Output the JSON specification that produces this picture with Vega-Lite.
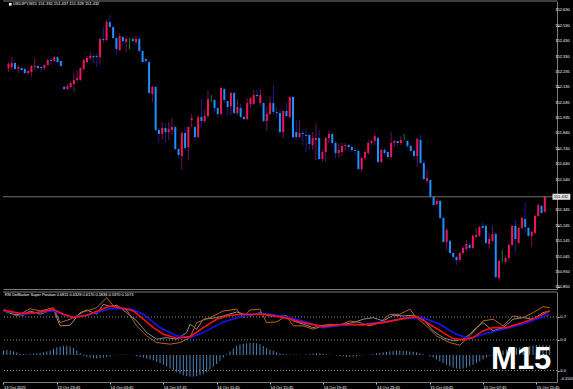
{
"$schema":"https://vega.github.io/schema/vega-lite/v6.json",
"background":"#000000",
"padding":{"left":0,"top":0,"right":8,"bottom":0},
"spacing":1,
"config":{"view":{"stroke":null},"axis":{"labelFont":"Liberation Sans","labelFontSize":4,"labelColor":"#ffffff","tickColor":"#c8c8c8","domainColor":"#7a7a7a","grid":false,"title":null,"labelOverlap":false}},
"datasets":{
"one":[{"k":1}],
"pticks":[{"v":152.63},{"v":152.53},{"v":152.43},{"v":152.33},{"v":152.235},{"v":152.135},{"v":152.035},{"v":151.935},{"v":151.84},{"v":151.74},{"v":151.64},{"v":151.54},{"v":151.345},{"v":151.245},{"v":151.145},{"v":151.045},{"v":150.95},{"v":150.85}],
"oticks":[{"v":0.7,"t":"0.7"},{"v":0.4,"t":"0.4"},{"v":0.0,"t":"0.0"}],
"omin":[{"v":-0.1503,"t":"-0.1503"}],
"candles":[
{"i":0,"o":152.258,"h":152.296,"l":152.232,"c":152.283},
{"i":1,"o":152.264,"h":152.328,"l":152.245,"c":152.290},
{"i":2,"o":152.290,"h":152.296,"l":152.245,"c":152.252},
{"i":3,"o":152.252,"h":152.277,"l":152.226,"c":152.264},
{"i":4,"o":152.258,"h":152.264,"l":152.239,"c":152.245},
{"i":5,"o":152.252,"h":152.258,"l":152.219,"c":152.226},
{"i":6,"o":152.226,"h":152.245,"l":152.213,"c":152.239},
{"i":7,"o":152.232,"h":152.277,"l":152.200,"c":152.271},
{"i":8,"o":152.264,"h":152.322,"l":152.245,"c":152.271},
{"i":9,"o":152.271,"h":152.277,"l":152.252,"c":152.258},
{"i":10,"o":152.264,"h":152.271,"l":152.232,"c":152.258},
{"i":11,"o":152.258,"h":152.283,"l":152.245,"c":152.277},
{"i":12,"o":152.277,"h":152.316,"l":152.271,"c":152.309},
{"i":13,"o":152.309,"h":152.322,"l":152.277,"c":152.303},
{"i":14,"o":152.303,"h":152.335,"l":152.296,"c":152.328},
{"i":15,"o":152.328,"h":152.335,"l":152.290,"c":152.296},
{"i":16,"o":152.303,"h":152.309,"l":152.264,"c":152.271},
{"i":17,"o":152.136,"h":152.149,"l":152.117,"c":152.123},
{"i":18,"o":152.123,"h":152.155,"l":152.117,"c":152.142},
{"i":19,"o":152.136,"h":152.175,"l":152.130,"c":152.162},
{"i":20,"o":152.155,"h":152.226,"l":152.098,"c":152.181},
{"i":21,"o":152.181,"h":152.245,"l":152.168,"c":152.194},
{"i":22,"o":152.181,"h":152.264,"l":152.175,"c":152.258},
{"i":23,"o":152.252,"h":152.316,"l":152.245,"c":152.309},
{"i":24,"o":152.296,"h":152.335,"l":152.290,"c":152.322},
{"i":25,"o":152.322,"h":152.361,"l":152.309,"c":152.335},
{"i":26,"o":152.335,"h":152.341,"l":152.290,"c":152.328},
{"i":27,"o":152.335,"h":152.354,"l":152.264,"c":152.329},
{"i":28,"o":152.328,"h":152.450,"l":152.277,"c":152.444},
{"i":29,"o":152.444,"h":152.521,"l":152.418,"c":152.437},
{"i":30,"o":152.437,"h":152.566,"l":152.431,"c":152.553},
{"i":31,"o":152.553,"h":152.598,"l":152.518,"c":152.521},
{"i":32,"o":152.521,"h":152.527,"l":152.444,"c":152.450},
{"i":33,"o":152.450,"h":152.463,"l":152.341,"c":152.380},
{"i":34,"o":152.373,"h":152.482,"l":152.367,"c":152.463},
{"i":35,"o":152.457,"h":152.463,"l":152.405,"c":152.431},
{"i":36,"o":152.425,"h":152.463,"l":152.361,"c":152.444},
{"i":37,"o":152.440,"h":152.450,"l":152.380,"c":152.440},
{"i":38,"o":152.444,"h":152.450,"l":152.425,"c":152.431},
{"i":39,"o":152.425,"h":152.463,"l":152.405,"c":152.444},
{"i":40,"o":152.444,"h":152.463,"l":152.361,"c":152.367},
{"i":41,"o":152.367,"h":152.373,"l":152.290,"c":152.296},
{"i":42,"o":152.316,"h":152.322,"l":152.290,"c":152.303},
{"i":43,"o":152.296,"h":152.309,"l":152.091,"c":152.098},
{"i":44,"o":152.091,"h":152.142,"l":152.040,"c":152.136},
{"i":45,"o":152.136,"h":152.142,"l":151.854,"c":151.860},
{"i":46,"o":151.860,"h":151.873,"l":151.777,"c":151.835},
{"i":47,"o":151.835,"h":151.911,"l":151.796,"c":151.873},
{"i":48,"o":151.873,"h":151.905,"l":151.777,"c":151.847},
{"i":49,"o":151.847,"h":151.911,"l":151.796,"c":151.866},
{"i":50,"o":151.860,"h":151.937,"l":151.828,"c":151.879},
{"i":51,"o":151.879,"h":151.886,"l":151.732,"c":151.738},
{"i":52,"o":151.738,"h":151.745,"l":151.681,"c":151.700},
{"i":53,"o":151.694,"h":151.847,"l":151.604,"c":151.841},
{"i":54,"o":151.841,"h":151.879,"l":151.732,"c":151.745},
{"i":55,"o":151.751,"h":151.886,"l":151.668,"c":151.879},
{"i":56,"o":151.924,"h":151.963,"l":151.879,"c":151.937},
{"i":57,"o":151.879,"h":151.886,"l":151.796,"c":151.815},
{"i":58,"o":151.815,"h":151.956,"l":151.809,"c":151.943},
{"i":59,"o":151.943,"h":152.059,"l":151.879,"c":151.918},
{"i":60,"o":151.918,"h":151.988,"l":151.905,"c":151.950},
{"i":61,"o":151.950,"h":152.117,"l":151.937,"c":152.059},
{"i":62,"o":152.059,"h":152.085,"l":152.040,"c":152.059},
{"i":63,"o":152.053,"h":152.059,"l":151.975,"c":152.001},
{"i":64,"o":152.001,"h":152.008,"l":151.943,"c":151.963},
{"i":65,"o":151.963,"h":152.136,"l":151.956,"c":152.130},
{"i":66,"o":152.123,"h":152.130,"l":152.033,"c":152.053},
{"i":67,"o":152.046,"h":152.053,"l":151.956,"c":152.008},
{"i":68,"o":152.014,"h":152.104,"l":151.956,"c":152.098},
{"i":69,"o":152.098,"h":152.104,"l":151.963,"c":151.969},
{"i":70,"o":151.969,"h":152.059,"l":151.956,"c":152.008},
{"i":71,"o":152.001,"h":152.027,"l":151.937,"c":151.944},
{"i":72,"o":151.944,"h":151.950,"l":151.924,"c":151.931},
{"i":73,"o":151.931,"h":152.065,"l":151.924,"c":152.033},
{"i":74,"o":152.027,"h":152.072,"l":152.001,"c":152.065},
{"i":75,"o":152.027,"h":152.117,"l":152.020,"c":152.085},
{"i":76,"o":152.085,"h":152.117,"l":152.059,"c":152.078},
{"i":77,"o":152.033,"h":152.123,"l":152.014,"c":152.085},
{"i":78,"o":152.033,"h":152.040,"l":151.911,"c":151.918},
{"i":79,"o":151.918,"h":152.014,"l":151.854,"c":151.963},
{"i":80,"o":151.963,"h":152.078,"l":151.956,"c":152.033},
{"i":81,"o":152.033,"h":152.149,"l":151.963,"c":151.976},
{"i":82,"o":151.976,"h":152.008,"l":151.937,"c":151.969},
{"i":83,"o":151.969,"h":151.995,"l":151.841,"c":151.847},
{"i":84,"o":151.847,"h":151.988,"l":151.809,"c":151.982},
{"i":85,"o":151.982,"h":152.040,"l":151.943,"c":151.950},
{"i":86,"o":151.943,"h":152.078,"l":151.937,"c":152.072},
{"i":87,"o":152.072,"h":152.078,"l":151.809,"c":151.815},
{"i":88,"o":151.847,"h":151.924,"l":151.796,"c":151.815},
{"i":89,"o":151.815,"h":151.924,"l":151.809,"c":151.841},
{"i":90,"o":151.841,"h":151.860,"l":151.764,"c":151.835},
{"i":91,"o":151.828,"h":151.873,"l":151.719,"c":151.822},
{"i":92,"o":151.828,"h":151.835,"l":151.732,"c":151.770},
{"i":93,"o":151.764,"h":151.847,"l":151.732,"c":151.809},
{"i":94,"o":151.796,"h":151.905,"l":151.668,"c":151.809},
{"i":95,"o":151.809,"h":151.860,"l":151.668,"c":151.674},
{"i":96,"o":151.674,"h":151.732,"l":151.655,"c":151.719},
{"i":97,"o":151.719,"h":151.815,"l":151.655,"c":151.809},
{"i":98,"o":151.809,"h":151.854,"l":151.777,"c":151.835},
{"i":99,"o":151.835,"h":151.841,"l":151.758,"c":151.777},
{"i":100,"o":151.777,"h":151.790,"l":151.681,"c":151.713},
{"i":101,"o":151.713,"h":151.777,"l":151.681,"c":151.732},
{"i":102,"o":151.719,"h":151.777,"l":151.694,"c":151.758},
{"i":103,"o":151.758,"h":151.777,"l":151.732,"c":151.764},
{"i":104,"o":151.764,"h":151.770,"l":151.732,"c":151.751},
{"i":105,"o":151.751,"h":151.758,"l":151.719,"c":151.732},
{"i":106,"o":151.732,"h":151.745,"l":151.700,"c":151.726},
{"i":107,"o":151.726,"h":151.732,"l":151.604,"c":151.610},
{"i":108,"o":151.610,"h":151.687,"l":151.591,"c":151.681},
{"i":109,"o":151.681,"h":151.732,"l":151.668,"c":151.719},
{"i":110,"o":151.713,"h":151.796,"l":151.700,"c":151.777},
{"i":111,"o":151.777,"h":151.796,"l":151.764,"c":151.790},
{"i":112,"o":151.790,"h":151.835,"l":151.764,"c":151.822},
{"i":113,"o":151.809,"h":151.815,"l":151.649,"c":151.655},
{"i":114,"o":151.655,"h":151.745,"l":151.649,"c":151.732},
{"i":115,"o":151.732,"h":151.745,"l":151.700,"c":151.713},
{"i":116,"o":151.719,"h":151.726,"l":151.681,"c":151.687},
{"i":117,"o":151.687,"h":151.847,"l":151.681,"c":151.777},
{"i":118,"o":151.777,"h":151.796,"l":151.751,"c":151.790},
{"i":119,"o":151.790,"h":151.790,"l":151.758,"c":151.777},
{"i":120,"o":151.777,"h":151.822,"l":151.764,"c":151.796},
{"i":121,"o":151.816,"h":151.835,"l":151.796,"c":151.816},
{"i":122,"o":151.790,"h":151.796,"l":151.745,"c":151.758},
{"i":123,"o":151.758,"h":151.764,"l":151.713,"c":151.726},
{"i":124,"o":151.726,"h":151.732,"l":151.668,"c":151.694},
{"i":125,"o":151.694,"h":151.809,"l":151.623,"c":151.803},
{"i":126,"o":151.796,"h":151.828,"l":151.642,"c":151.649},
{"i":127,"o":151.649,"h":151.668,"l":151.539,"c":151.546},
{"i":128,"o":151.533,"h":151.604,"l":151.520,"c":151.552},
{"i":129,"o":151.539,"h":151.546,"l":151.424,"c":151.430},
{"i":130,"o":151.430,"h":151.437,"l":151.373,"c":151.379},
{"i":131,"o":151.385,"h":151.418,"l":151.373,"c":151.405},
{"i":132,"o":151.405,"h":151.411,"l":151.289,"c":151.296},
{"i":133,"o":151.296,"h":151.302,"l":151.136,"c":151.142},
{"i":134,"o":151.142,"h":151.232,"l":151.091,"c":151.219},
{"i":135,"o":151.149,"h":151.155,"l":151.065,"c":151.071},
{"i":136,"o":151.071,"h":151.078,"l":151.033,"c":151.046},
{"i":137,"o":151.046,"h":151.052,"l":150.994,"c":151.026},
{"i":138,"o":151.026,"h":151.078,"l":151.014,"c":151.071},
{"i":139,"o":151.071,"h":151.116,"l":151.058,"c":151.103},
{"i":140,"o":151.097,"h":151.155,"l":151.078,"c":151.129},
{"i":141,"o":151.123,"h":151.136,"l":151.091,"c":151.103},
{"i":142,"o":151.103,"h":151.187,"l":151.097,"c":151.181},
{"i":143,"o":151.174,"h":151.232,"l":151.168,"c":151.187},
{"i":144,"o":151.181,"h":151.245,"l":151.174,"c":151.238},
{"i":145,"o":151.245,"h":151.270,"l":151.219,"c":151.232},
{"i":146,"o":151.245,"h":151.251,"l":151.129,"c":151.136},
{"i":147,"o":151.129,"h":151.200,"l":151.097,"c":151.161},
{"i":148,"o":151.149,"h":151.245,"l":151.142,"c":151.193},
{"i":149,"o":151.193,"h":151.206,"l":150.904,"c":150.917},
{"i":150,"o":150.911,"h":151.026,"l":150.898,"c":151.020},
{"i":151,"o":151.052,"h":151.091,"l":151.014,"c":151.052},
{"i":152,"o":151.014,"h":151.058,"l":151.001,"c":151.039},
{"i":153,"o":151.039,"h":151.136,"l":151.020,"c":151.123},
{"i":154,"o":151.123,"h":151.251,"l":151.116,"c":151.245},
{"i":155,"o":151.245,"h":151.283,"l":151.071,"c":151.161},
{"i":156,"o":151.136,"h":151.238,"l":151.129,"c":151.232},
{"i":157,"o":151.232,"h":151.302,"l":151.225,"c":151.296},
{"i":158,"o":151.289,"h":151.392,"l":151.200,"c":151.238},
{"i":159,"o":151.232,"h":151.238,"l":151.174,"c":151.181},
{"i":160,"o":151.181,"h":151.213,"l":151.110,"c":151.206},
{"i":161,"o":151.200,"h":151.315,"l":151.193,"c":151.309},
{"i":162,"o":151.309,"h":151.385,"l":151.302,"c":151.379},
{"i":163,"o":151.373,"h":151.379,"l":151.322,"c":151.328},
{"i":164,"o":151.335,"h":151.437,"l":151.328,"c":151.432}
],
"hist":[
{"i":0,"h":0.05},{"i":1,"h":0.055},{"i":2,"h":0.05},{"i":3,"h":0.04},{"i":4,"h":0.03},{"i":5,"h":0.015},{"i":6,"h":0.01},{"i":7,"h":0.008},{"i":8,"h":0.01},{"i":9,"h":0.015},
{"i":10,"h":0.02},{"i":11,"h":0.025},{"i":12,"h":0.03},{"i":13,"h":0.04},{"i":14,"h":0.05},{"i":15,"h":0.07},{"i":16,"h":0.085},{"i":17,"h":0.095},{"i":18,"h":0.1},{"i":19,"h":0.1},
{"i":20,"h":0.095},{"i":21,"h":0.08},{"i":22,"h":0.05},{"i":23,"h":0.02},{"i":24,"h":-0.01},{"i":25,"h":-0.02},{"i":26,"h":-0.03},{"i":27,"h":-0.035},{"i":28,"h":-0.04},{"i":29,"h":-0.035},
{"i":30,"h":-0.03},{"i":31,"h":-0.025},{"i":32,"h":-0.015},{"i":33,"h":-0.005},{"i":34,"h":0.004},{"i":35,"h":0.005},{"i":36,"h":0.004},{"i":37,"h":0.003},{"i":38,"h":0.002},{"i":39,"h":-0.005},
{"i":40,"h":-0.015},{"i":41,"h":-0.02},{"i":42,"h":-0.03},{"i":43,"h":-0.04},{"i":44,"h":-0.05},{"i":45,"h":-0.06},{"i":46,"h":-0.075},{"i":47,"h":-0.09},{"i":48,"h":-0.11},{"i":49,"h":-0.13},
{"i":50,"h":-0.15},{"i":51,"h":-0.17},{"i":52,"h":-0.19},{"i":53,"h":-0.21},{"i":54,"h":-0.225},{"i":55,"h":-0.235},{"i":56,"h":-0.24},{"i":57,"h":-0.24},{"i":58,"h":-0.235},{"i":59,"h":-0.225},
{"i":60,"h":-0.21},{"i":61,"h":-0.19},{"i":62,"h":-0.16},{"i":63,"h":-0.13},{"i":64,"h":-0.1},{"i":65,"h":-0.065},{"i":66,"h":-0.03},{"i":67,"h":0.01},{"i":68,"h":0.04},{"i":69,"h":0.07},
{"i":70,"h":0.1},{"i":71,"h":0.115},{"i":72,"h":0.125},{"i":73,"h":0.13},{"i":74,"h":0.135},{"i":75,"h":0.137},{"i":76,"h":0.13},{"i":77,"h":0.12},{"i":78,"h":0.1},{"i":79,"h":0.08},
{"i":80,"h":0.06},{"i":81,"h":0.045},{"i":82,"h":0.03},{"i":83,"h":0.02},{"i":84,"h":0.01},{"i":85,"h":0.008},{"i":86,"h":0.006},{"i":87,"h":0.005},{"i":88,"h":0.004},{"i":89,"h":0.003},
{"i":90,"h":0.0},{"i":91,"h":0.005},{"i":92,"h":0.01},{"i":93,"h":0.015},{"i":94,"h":0.02},{"i":95,"h":0.02},{"i":96,"h":0.015},{"i":97,"h":0.01},{"i":98,"h":0.005},{"i":99,"h":0.0},
{"i":100,"h":-0.005},{"i":101,"h":-0.01},{"i":102,"h":-0.015},{"i":103,"h":-0.02},{"i":104,"h":-0.02},{"i":105,"h":-0.018},{"i":106,"h":-0.015},{"i":107,"h":-0.01},{"i":108,"h":-0.005},{"i":109,"h":0.0},
{"i":110,"h":0.005},{"i":111,"h":0.01},{"i":112,"h":0.02},{"i":113,"h":0.025},{"i":114,"h":0.03},{"i":115,"h":0.035},{"i":116,"h":0.04},{"i":117,"h":0.045},{"i":118,"h":0.05},{"i":119,"h":0.05},
{"i":120,"h":0.048},{"i":121,"h":0.045},{"i":122,"h":0.04},{"i":123,"h":0.035},{"i":124,"h":0.03},{"i":125,"h":0.02},{"i":126,"h":0.01},{"i":127,"h":0.0},{"i":128,"h":-0.015},{"i":129,"h":-0.03},
{"i":130,"h":-0.05},{"i":131,"h":-0.07},{"i":132,"h":-0.09},{"i":133,"h":-0.11},{"i":134,"h":-0.125},{"i":135,"h":-0.14},{"i":136,"h":-0.15},{"i":137,"h":-0.155},{"i":138,"h":-0.15},{"i":139,"h":-0.14},
{"i":140,"h":-0.125},{"i":141,"h":-0.11},{"i":142,"h":-0.09},{"i":143,"h":-0.07},{"i":144,"h":-0.05},{"i":145,"h":-0.03},{"i":146,"h":-0.01},{"i":147,"h":0.01},{"i":148,"h":0.025},{"i":149,"h":0.04},
{"i":150,"h":0.05},{"i":151,"h":0.06},{"i":152,"h":0.07},{"i":153,"h":0.075},{"i":154,"h":0.08},{"i":155,"h":0.085},{"i":156,"h":0.09},{"i":157,"h":0.095},{"i":158,"h":0.1},{"i":159,"h":0.105},
{"i":160,"h":0.11},{"i":161,"h":0.11},{"i":162,"h":0.11},{"i":163,"h":0.108},{"i":164,"h":0.1073}
],
"levels":[{"v":0.7},{"v":0.4},{"v":0.0}],
"osc":[
{"i":0,"s":"g","v":0.778},{"i":3,"s":"g","v":0.735},{"i":6,"s":"g","v":0.722},{"i":8,"s":"g","v":0.778},{"i":11,"s":"g","v":0.735},{"i":15,"s":"g","v":0.801},{"i":17,"s":"g","v":0.583},{"i":20,"s":"g","v":0.592},{"i":23,"s":"g","v":0.756},{"i":25,"s":"g","v":0.791},{"i":28,"s":"g","v":0.735},{"i":30,"s":"g","v":0.866},{"i":32,"s":"g","v":0.834},{"i":34,"s":"g","v":0.853},{"i":37,"s":"g","v":0.756},{"i":40,"s":"g","v":0.648},{"i":43,"s":"g","v":0.495},{"i":46,"s":"g","v":0.409},{"i":49,"s":"g","v":0.430},{"i":52,"s":"g","v":0.409},{"i":55,"s":"g","v":0.495},{"i":56,"s":"g","v":0.605},{"i":58,"s":"g","v":0.540},{"i":60,"s":"g","v":0.670},{"i":64,"s":"g","v":0.691},{"i":66,"s":"g","v":0.713},{"i":70,"s":"g","v":0.765},{"i":74,"s":"g","v":0.713},{"i":77,"s":"g","v":0.756},{"i":80,"s":"g","v":0.713},{"i":85,"s":"g","v":0.713},{"i":87,"s":"g","v":0.648},{"i":90,"s":"g","v":0.605},{"i":93,"s":"g","v":0.561},{"i":96,"s":"g","v":0.592},{"i":99,"s":"g","v":0.592},{"i":102,"s":"g","v":0.605},{"i":105,"s":"g","v":0.626},{"i":108,"s":"g","v":0.670},{"i":111,"s":"g","v":0.691},{"i":114,"s":"g","v":0.648},{"i":117,"s":"g","v":0.722},{"i":120,"s":"g","v":0.713},{"i":123,"s":"g","v":0.722},{"i":126,"s":"g","v":0.670},{"i":129,"s":"g","v":0.518},{"i":132,"s":"g","v":0.430},{"i":135,"s":"g","v":0.387},{"i":138,"s":"g","v":0.409},{"i":140,"s":"g","v":0.475},{"i":142,"s":"g","v":0.561},{"i":144,"s":"g","v":0.626},{"i":147,"s":"g","v":0.518},{"i":150,"s":"g","v":0.561},{"i":153,"s":"g","v":0.670},{"i":156,"s":"g","v":0.691},{"i":159,"s":"g","v":0.670},{"i":162,"s":"g","v":0.756},{"i":164,"s":"g","v":0.778},
{"i":0,"s":"d","v":0.801},{"i":4,"s":"d","v":0.713},{"i":8,"s":"d","v":0.808},{"i":11,"s":"d","v":0.778},{"i":15,"s":"d","v":0.821},{"i":17,"s":"d","v":0.626},{"i":20,"s":"d","v":0.670},{"i":24,"s":"d","v":0.765},{"i":28,"s":"d","v":0.821},{"i":31,"s":"d","v":0.952},{"i":33,"s":"d","v":0.844},{"i":37,"s":"d","v":0.791},{"i":40,"s":"d","v":0.583},{"i":43,"s":"d","v":0.452},{"i":46,"s":"d","v":0.365},{"i":50,"s":"d","v":0.344},{"i":53,"s":"d","v":0.365},{"i":56,"s":"d","v":0.430},{"i":58,"s":"d","v":0.626},{"i":62,"s":"d","v":0.691},{"i":66,"s":"d","v":0.778},{"i":70,"s":"d","v":0.801},{"i":72,"s":"d","v":0.691},{"i":74,"s":"d","v":0.791},{"i":77,"s":"d","v":0.801},{"i":79,"s":"d","v":0.626},{"i":82,"s":"d","v":0.635},{"i":85,"s":"d","v":0.713},{"i":87,"s":"d","v":0.583},{"i":90,"s":"d","v":0.583},{"i":93,"s":"d","v":0.540},{"i":96,"s":"d","v":0.583},{"i":98,"s":"d","v":0.605},{"i":101,"s":"d","v":0.592},{"i":104,"s":"d","v":0.648},{"i":107,"s":"d","v":0.626},{"i":110,"s":"d","v":0.583},{"i":113,"s":"d","v":0.626},{"i":116,"s":"d","v":0.735},{"i":119,"s":"d","v":0.735},{"i":122,"s":"d","v":0.801},{"i":124,"s":"d","v":0.691},{"i":127,"s":"d","v":0.583},{"i":130,"s":"d","v":0.452},{"i":134,"s":"d","v":0.365},{"i":137,"s":"d","v":0.331},{"i":140,"s":"d","v":0.452},{"i":142,"s":"d","v":0.548},{"i":144,"s":"d","v":0.648},{"i":147,"s":"d","v":0.670},{"i":150,"s":"d","v":0.583},{"i":153,"s":"d","v":0.713},{"i":156,"s":"d","v":0.691},{"i":159,"s":"d","v":0.756},{"i":162,"s":"d","v":0.834},{"i":164,"s":"d","v":0.821},
{"i":0,"s":"b","v":0.778},{"i":6,"s":"b","v":0.735},{"i":15,"s":"b","v":0.778},{"i":20,"s":"b","v":0.700},{"i":25,"s":"b","v":0.722},{"i":32,"s":"b","v":0.808},{"i":38,"s":"b","v":0.808},{"i":42,"s":"b","v":0.735},{"i":47,"s":"b","v":0.561},{"i":52,"s":"b","v":0.452},{"i":56,"s":"b","v":0.430},{"i":60,"s":"b","v":0.495},{"i":66,"s":"b","v":0.635},{"i":72,"s":"b","v":0.713},{"i":78,"s":"b","v":0.748},{"i":84,"s":"b","v":0.707},{"i":90,"s":"b","v":0.648},{"i":96,"s":"b","v":0.561},{"i":102,"s":"b","v":0.592},{"i":108,"s":"b","v":0.605},{"i":114,"s":"b","v":0.635},{"i":120,"s":"b","v":0.678},{"i":126,"s":"b","v":0.691},{"i":131,"s":"b","v":0.605},{"i":136,"s":"b","v":0.475},{"i":140,"s":"b","v":0.417},{"i":144,"s":"b","v":0.475},{"i":150,"s":"b","v":0.540},{"i":156,"s":"b","v":0.605},{"i":160,"s":"b","v":0.670},{"i":164,"s":"b","v":0.735},
{"i":0,"s":"r","v":0.788},{"i":5,"s":"r","v":0.748},{"i":10,"s":"r","v":0.756},{"i":15,"s":"r","v":0.801},{"i":18,"s":"r","v":0.735},{"i":21,"s":"r","v":0.691},{"i":25,"s":"r","v":0.722},{"i":29,"s":"r","v":0.791},{"i":32,"s":"r","v":0.844},{"i":36,"s":"r","v":0.814},{"i":39,"s":"r","v":0.778},{"i":42,"s":"r","v":0.670},{"i":45,"s":"r","v":0.561},{"i":48,"s":"r","v":0.475},{"i":52,"s":"r","v":0.422},{"i":56,"s":"r","v":0.443},{"i":60,"s":"r","v":0.561},{"i":64,"s":"r","v":0.670},{"i":68,"s":"r","v":0.722},{"i":72,"s":"r","v":0.735},{"i":78,"s":"r","v":0.735},{"i":84,"s":"r","v":0.694},{"i":90,"s":"r","v":0.626},{"i":96,"s":"r","v":0.574},{"i":102,"s":"r","v":0.605},{"i":108,"s":"r","v":0.596},{"i":114,"s":"r","v":0.626},{"i":120,"s":"r","v":0.678},{"i":124,"s":"r","v":0.704},{"i":128,"s":"r","v":0.605},{"i":132,"s":"r","v":0.495},{"i":135,"s":"r","v":0.417},{"i":138,"s":"r","v":0.400},{"i":141,"s":"r","v":0.430},{"i":144,"s":"r","v":0.518},{"i":147,"s":"r","v":0.561},{"i":151,"s":"r","v":0.561},{"i":156,"s":"r","v":0.626},{"i":160,"s":"r","v":0.691},{"i":164,"s":"r","v":0.778}
]
},
"vconcat":[
{
"width":554,"height":288,
"layer":[
{"data":{"name":"candles"},"mark":{"type":"rule","strokeWidth":1},
 "encoding":{
  "x":{"field":"i","type":"quantitative","scale":{"domain":[-0.15,166.2],"nice":false,"zero":false},"axis":{"orient":"bottom","labels":false,"ticks":false,"domain":true,"title":null}},
  "y":{"field":"l","type":"quantitative","scale":{"domain":[150.84,152.688],"nice":false,"zero":false},"axis":{"orient":"right","values":[152.63,152.53,152.43,152.33,152.235,152.135,152.035,151.935,151.84,151.74,151.64,151.54,151.345,151.245,151.145,151.045,150.95,150.85],"labels":false,"tickSize":2,"title":null}},
  "y2":{"field":"h"},
  "color":{"condition":[{"test":"datum.c > datum.o","value":"#6c1260"},{"test":"datum.c < datum.o","value":"#1c1c88"}],"value":"#0c8c0c"}
 }},
{"data":{"name":"candles"},"mark":{"type":"bar","size":2},
 "encoding":{
  "x":{"field":"i","type":"quantitative"},
  "y":{"field":"o","type":"quantitative"},
  "y2":{"field":"c"},
  "color":{"condition":[{"test":"datum.c > datum.o","value":"#f0145a"},{"test":"datum.c < datum.o","value":"#1e90ff"}],"value":"#0c8c0c"}
 }},
{"data":{"name":"pticks"},"mark":{"type":"text","align":"left","baseline":"middle","color":"#ffffff","font":"Liberation Sans","fontSize":4},"encoding":{"x":{"datum":167.2},"y":{"field":"v","type":"quantitative"},"text":{"field":"v","type":"quantitative","format":".3f"}}},
{"data":{"name":"one"},"mark":{"type":"rule","color":"#6e6e6e","strokeWidth":1},"encoding":{"y":{"datum":151.432}}},
{"data":{"name":"one"},"mark":{"type":"rule","color":"#7a7a7a","strokeWidth":1},"encoding":{"y":{"datum":152.688}}},
{"data":{"name":"one"},"mark":{"type":"rect","color":"#e4e4e4"},"encoding":{"x":{"datum":166.35},"x2":{"datum":171.8},"y":{"datum":151.451},"y2":{"datum":151.413}}},
{"data":{"name":"one"},"mark":{"type":"text","align":"left","baseline":"middle","color":"#000000","font":"Liberation Sans","fontSize":4},"encoding":{"x":{"datum":166.7},"y":{"datum":151.432},"text":{"value":"151.432"}}},
{"data":{"name":"one"},"mark":{"type":"point","shape":"square","filled":true,"color":"#ffffff","size":7,"opacity":1},"encoding":{"x":{"datum":0.55},"y":{"datum":152.667}}},
{"data":{"name":"one"},"mark":{"type":"text","align":"left","baseline":"middle","color":"#ffffff","font":"Liberation Sans","fontSize":4},"encoding":{"x":{"datum":1.35},"y":{"datum":152.667},"text":{"value":"USDJPY,M15  151.335 151.437 151.328 151.432"}}}
]
},
{
"width":554,"height":90,
"resolve":{"scale":{"y":"independent"},"axis":{"y":"independent"}},
"layer":[
{"data":{"name":"hist"},
 "mark":{"type":"rule","color":"#4f84b8","strokeWidth":1},
 "encoding":{
  "x":{"field":"i","type":"quantitative","scale":{"domain":[-0.15,166.2],"nice":false,"zero":false},"axis":{"orient":"bottom","values":[0,8,16,24,32,40,48,56,64,72,80,88,96,104,112,120,128,136,144,152,160],"labelExpr":"datum.value == 0 ? '13 Oct 2025' : utcFormat(utc(2025,9,13,19,45) + datum.value*900000, '%d %b %H:%M')","labelAlign":"left","labelBaseline":"top","labelPadding":1,"tickSize":2,"labelOverlap":false,"labelFlush":false,"labelBound":false,"title":null}},
  "y":{"field":"h","type":"quantitative","scale":{"domain":[-0.3,0.7],"nice":false,"zero":false},"axis":null},
  "y2":{"datum":0}
 }},
{"layer":[
 {"data":{"name":"levels"},
  "mark":{"type":"rule","color":"#8a8a8a","strokeWidth":1,"strokeDash":[1,2]},
  "encoding":{"y":{"field":"v","type":"quantitative","scale":{"domain":[-0.1503,1.026],"nice":false,"zero":false},"axis":{"orient":"right","values":[0.7,0.4,0],"labels":false,"tickSize":2,"title":null}}}},
 {"data":{"name":"oticks"},"mark":{"type":"text","align":"left","baseline":"middle","color":"#ffffff","font":"Liberation Sans","fontSize":4},"encoding":{"x":{"datum":167.2},"y":{"field":"v","type":"quantitative"},"text":{"field":"t"}}},
 {"data":{"name":"omin"},"mark":{"type":"text","align":"left","baseline":"bottom","color":"#ffffff","font":"Liberation Sans","fontSize":4,"dy":-1},"encoding":{"x":{"datum":167.2},"y":{"field":"v","type":"quantitative"},"text":{"field":"t"}}},
 {"data":{"name":"one"},"mark":{"type":"rule","color":"#7a7a7a","strokeWidth":1},"encoding":{"y":{"datum":1.026}}},
 {"data":{"name":"osc"},"transform":[{"filter":"datum.s == 'g'"}],"mark":{"type":"line","color":"#8c8c8c","strokeWidth":1},"encoding":{"x":{"field":"i","type":"quantitative"},"y":{"field":"v","type":"quantitative"}}},
 {"data":{"name":"osc"},"transform":[{"filter":"datum.s == 'd'"}],"mark":{"type":"line","color":"#b4661e","strokeWidth":1},"encoding":{"x":{"field":"i","type":"quantitative"},"y":{"field":"v","type":"quantitative"}}},
 {"data":{"name":"osc"},"transform":[{"filter":"datum.s == 'b'"}],"mark":{"type":"line","color":"#1414ff","strokeWidth":1.6},"encoding":{"x":{"field":"i","type":"quantitative"},"y":{"field":"v","type":"quantitative"}}},
 {"data":{"name":"osc"},"transform":[{"filter":"datum.s == 'r'"}],"mark":{"type":"line","color":"#ff0f0f","strokeWidth":1.6},"encoding":{"x":{"field":"i","type":"quantitative"},"y":{"field":"v","type":"quantitative"}}},
 {"data":{"name":"one"},"mark":{"type":"text","align":"left","baseline":"middle","color":"#ffffff","font":"Liberation Sans","fontSize":3.9},"encoding":{"x":{"datum":0.36},"y":{"datum":0.987},"text":{"value":"RSI DeMarker Super Position 0.6811 0.6328 0.6170 0.5836 0.5370 0.1073"}}},
 {"data":{"name":"one"},"mark":{"type":"text","align":"left","baseline":"alphabetic","color":"#ffffff","font":"Liberation Sans","fontWeight":"bold","fontSize":31},"encoding":{"x":{"datum":146.4},"y":{"datum":0.02},"text":{"value":"M15"}}}
]}
]
}
]
}
